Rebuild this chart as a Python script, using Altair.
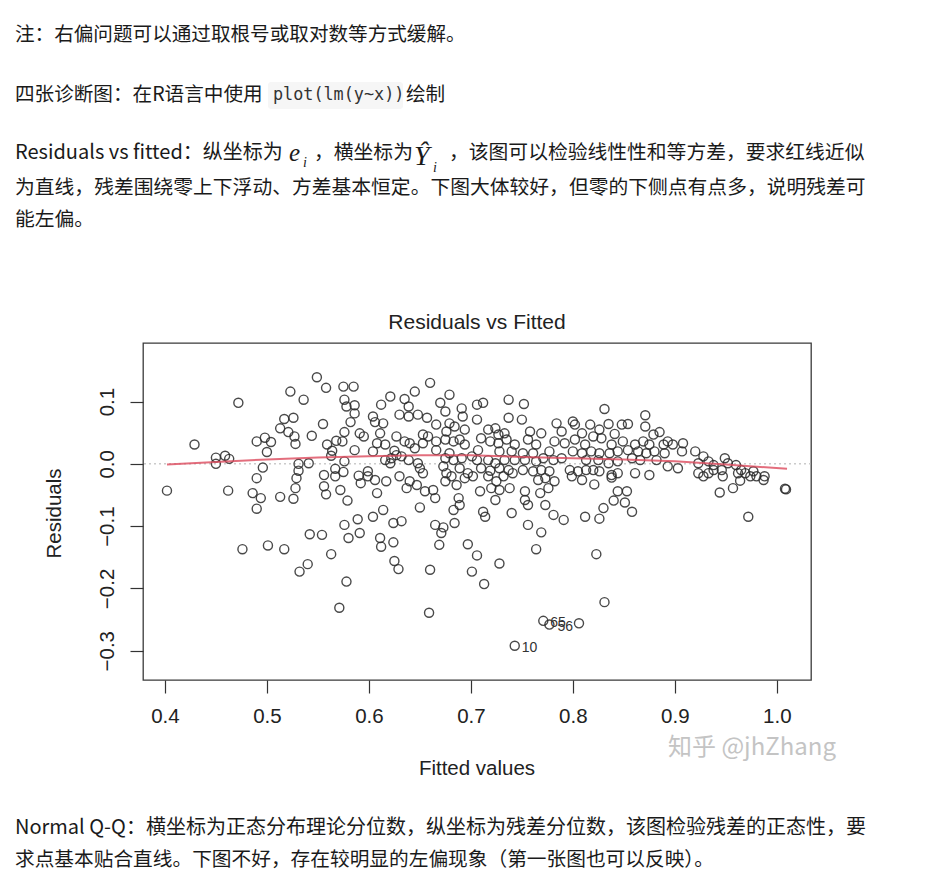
import altair as alt
import pandas as pd

# ---------------- data: (fitted, residual) pairs ----------------
ZONE_A = [(0.472, 0.098), (0.429, 0.031), (0.450, 0.010), (0.450, 0.000), (0.459, 0.013),
          (0.463, 0.008), (0.402, -0.043), (0.462, -0.043), (0.476, -0.137), (0.490, 0.036),
          (0.490, -0.023), (0.486, -0.047), (0.490, -0.072)]
ZONE_B = [(0.549, 0.139), (0.523, 0.116), (0.536, 0.103), (0.558, 0.122), (0.575, 0.124),
          (0.585, 0.124), (0.576, 0.103), (0.578, 0.092), (0.586, 0.094), (0.586, 0.081),
          (0.582, 0.067), (0.555, 0.064), (0.517, 0.072), (0.526, 0.074), (0.513, 0.057),
          (0.521, 0.051), (0.527, 0.044), (0.528, 0.032), (0.544, 0.045), (0.498, 0.042),
          (0.504, 0.035), (0.500, 0.019), (0.559, 0.031), (0.564, 0.021), (0.568, 0.037),
          (0.574, 0.036), (0.576, 0.051), (0.591, 0.049), (0.595, 0.044), (0.586, 0.022),
          (0.563, 0.013), (0.576, 0.004), (0.541, 0.001), (0.531, 0.000), (0.531, -0.011),
          (0.496, -0.006), (0.529, -0.023), (0.528, -0.039), (0.526, -0.056), (0.513, -0.053),
          (0.494, -0.055), (0.556, -0.018), (0.556, -0.036), (0.558, -0.049), (0.567, -0.008),
          (0.567, -0.020), (0.575, -0.013), (0.572, -0.042), (0.579, -0.059), (0.590, -0.019),
          (0.592, -0.031), (0.599, -0.012), (0.576, -0.098), (0.589, -0.089), (0.591, -0.111),
          (0.580, -0.119), (0.542, -0.113), (0.554, -0.114), (0.501, -0.131), (0.517, -0.137),
          (0.563, -0.145), (0.540, -0.161), (0.532, -0.173), (0.578, -0.189), (0.571, -0.231)]
ZONE_C = [(0.660, 0.130), (0.679, 0.111), (0.645, 0.116), (0.621, 0.108), (0.635, 0.104),
          (0.639, 0.092), (0.612, 0.095), (0.630, 0.079), (0.639, 0.076), (0.648, 0.079),
          (0.657, 0.074), (0.670, 0.098), (0.675, 0.084), (0.691, 0.089), (0.692, 0.076),
          (0.706, 0.095), (0.706, 0.071), (0.604, 0.076), (0.606, 0.067), (0.614, 0.065),
          (0.666, 0.063), (0.679, 0.065), (0.684, 0.060), (0.694, 0.055), (0.676, 0.052),
          (0.611, 0.049), (0.608, 0.033), (0.616, 0.031), (0.627, 0.044), (0.635, 0.036),
          (0.640, 0.033), (0.653, 0.047), (0.658, 0.044), (0.653, 0.033), (0.666, 0.036),
          (0.675, 0.039), (0.683, 0.036), (0.689, 0.039), (0.694, 0.031), (0.666, 0.022),
          (0.604, 0.020), (0.625, 0.021), (0.645, 0.025), (0.616, 0.006), (0.622, 0.009),
          (0.627, 0.014), (0.621, 0.001), (0.632, 0.012), (0.639, 0.006), (0.648, 0.001),
          (0.650, -0.007), (0.653, -0.015), (0.675, 0.009), (0.679, 0.017), (0.683, 0.006),
          (0.691, 0.009), (0.701, 0.012), (0.673, -0.004), (0.676, -0.015), (0.689, -0.007),
          (0.697, -0.015), (0.702, -0.020), (0.599, -0.020), (0.606, -0.026), (0.617, -0.028),
          (0.608, -0.047), (0.630, -0.020), (0.640, -0.028), (0.647, -0.034), (0.637, -0.039),
          (0.655, -0.044), (0.663, -0.042), (0.665, -0.055), (0.675, -0.028), (0.681, -0.020),
          (0.686, -0.034), (0.694, -0.023), (0.688, -0.055), (0.689, -0.066), (0.683, -0.074),
          (0.650, -0.070), (0.614, -0.074), (0.604, -0.085), (0.624, -0.095), (0.632, -0.092),
          (0.665, -0.098), (0.673, -0.102), (0.671, -0.111), (0.684, -0.095), (0.611, -0.119),
          (0.612, -0.133), (0.624, -0.126), (0.669, -0.130), (0.697, -0.129), (0.706, -0.147),
          (0.625, -0.156), (0.629, -0.169), (0.660, -0.170), (0.701, -0.173), (0.659, -0.239)]
ZONE_D = [(0.712, 0.098), (0.737, 0.103), (0.752, 0.096), (0.737, 0.074), (0.750, 0.071),
          (0.758, 0.052), (0.769, 0.049), (0.784, 0.065), (0.789, 0.052), (0.800, 0.068),
          (0.802, 0.063), (0.809, 0.049), (0.717, 0.055), (0.724, 0.057), (0.727, 0.047),
          (0.733, 0.049), (0.735, 0.039), (0.710, 0.041), (0.719, 0.036), (0.727, 0.033),
          (0.743, 0.031), (0.756, 0.039), (0.764, 0.031), (0.782, 0.036), (0.792, 0.033),
          (0.802, 0.039), (0.812, 0.031), (0.707, 0.022), (0.728, 0.020), (0.740, 0.020),
          (0.751, 0.017), (0.761, 0.017), (0.777, 0.020), (0.781, 0.006), (0.789, 0.009),
          (0.800, 0.020), (0.809, 0.017), (0.706, 0.006), (0.717, 0.006), (0.724, 0.001),
          (0.733, 0.006), (0.743, 0.006), (0.753, 0.006), (0.764, 0.004), (0.771, 0.009),
          (0.710, -0.007), (0.719, -0.011), (0.728, -0.007), (0.737, -0.010), (0.741, -0.015),
          (0.751, -0.010), (0.761, -0.012), (0.769, -0.010), (0.777, -0.012), (0.797, -0.010),
          (0.805, -0.012), (0.813, -0.010), (0.717, -0.020), (0.732, -0.020), (0.725, -0.028),
          (0.766, -0.026), (0.773, -0.023), (0.782, -0.028), (0.799, -0.020), (0.809, -0.026),
          (0.709, -0.044), (0.720, -0.039), (0.728, -0.042), (0.738, -0.039), (0.753, -0.044),
          (0.768, -0.047), (0.776, -0.039), (0.724, -0.058), (0.753, -0.058), (0.756, -0.066),
          (0.773, -0.066), (0.712, -0.077), (0.714, -0.085), (0.740, -0.079), (0.781, -0.082),
          (0.791, -0.090), (0.812, -0.085), (0.756, -0.098), (0.769, -0.110), (0.764, -0.137),
          (0.728, -0.160), (0.713, -0.193), (0.771, -0.252), (0.777, -0.258), (0.806, -0.256),
          (0.743, -0.292)]
ZONE_E = [(0.831, 0.088), (0.871, 0.078), (0.817, 0.063), (0.826, 0.055), (0.835, 0.064),
          (0.848, 0.063), (0.854, 0.064), (0.841, 0.048), (0.871, 0.060), (0.879, 0.047),
          (0.885, 0.051), (0.893, 0.036), (0.898, 0.031), (0.908, 0.033), (0.820, 0.044),
          (0.828, 0.041), (0.838, 0.031), (0.849, 0.036), (0.861, 0.031), (0.869, 0.036),
          (0.875, 0.031), (0.889, 0.031), (0.818, 0.020), (0.826, 0.017), (0.836, 0.017),
          (0.844, 0.020), (0.854, 0.022), (0.864, 0.020), (0.872, 0.017), (0.880, 0.020),
          (0.890, 0.017), (0.907, 0.020), (0.920, 0.020), (0.813, 0.006), (0.825, 0.006),
          (0.835, 0.001), (0.844, 0.004), (0.858, 0.009), (0.866, 0.006), (0.882, 0.006),
          (0.893, -0.004), (0.903, -0.007), (0.923, 0.001), (0.820, -0.010), (0.826, -0.012),
          (0.838, -0.018), (0.844, -0.015), (0.861, -0.015), (0.875, -0.018), (0.923, -0.015),
          (0.821, -0.033), (0.838, -0.022), (0.844, -0.044), (0.853, -0.044), (0.840, -0.059),
          (0.851, -0.062), (0.858, -0.077), (0.830, -0.071), (0.826, -0.088), (0.823, -0.145),
          (0.831, -0.222)]
ZONE_F = [(0.928, 0.012), (0.933, 0.004), (0.938, -0.002), (0.949, 0.009), (0.952, 0.001),
          (0.946, -0.010), (0.960, -0.002), (0.965, -0.010), (0.969, -0.015), (0.977, -0.012),
          (0.980, -0.020), (0.988, -0.020), (0.987, -0.026), (0.928, -0.020), (0.933, -0.015),
          (0.938, -0.010), (0.947, -0.020), (0.962, -0.015), (0.964, -0.027), (0.974, -0.020),
          (0.957, -0.039), (0.944, -0.046), (1.008, -0.040), (1.009, -0.041), (0.972, -0.085)]

LOWESS_X = [0.402, 0.45, 0.50, 0.55, 0.60, 0.65, 0.70, 0.75, 0.80, 0.85, 0.90, 0.95, 1.01]
LOWESS_Y = [-0.001, 0.003, 0.007, 0.010, 0.012, 0.014, 0.014, 0.011, 0.009, 0.007, 0.004, -0.001, -0.008]

LABEL_FITTED = [0.743, 0.771, 0.778]
LABEL_RESID = [-0.292, -0.252, -0.258]
LABEL_TEXT = ["10", "65", "56"]

X_TICKS = [0.4, 0.5, 0.6, 0.7, 0.8, 0.9, 1.0]
Y_TICKS = [-0.3, -0.2, -0.1, 0.0, 0.1]
X_DOMAIN = [0.3785, 1.0335]
Y_DOMAIN = [-0.347, 0.194]

TITLE = "Residuals vs Fitted"
X_TITLE = "Fitted values"
Y_TITLE = "Residuals"
WATERMARK = "知乎 @jhZhang"

LINE1 = "注：右偏问题可以通过取根号或取对数等方式缓解。"
LINE2A = "四张诊断图：在R语言中使用"
LINE2CODE = "plot(lm(y~x))"
LINE2B = "绘制"
LINE3A = "Residuals vs fitted：纵坐标为"
LINE3B = "，横坐标为"
LINE3C = "，该图可以检验线性性和等方差，要求红线近似"
LINE4 = "为直线，残差围绕零上下浮动、方差基本恒定。下图大体较好，但零的下侧点有点多，说明残差可"
LINE5 = "能左偏。"
LINE6 = "Normal Q-Q：横坐标为正态分布理论分位数，纵坐标为残差分位数，该图检验残差的正态性，要"
LINE7 = "求点基本贴合直线。下图不好，存在较明显的左偏现象（第一张图也可以反映）。"

# ---------------- layout ----------------
PL, PT, PW, PH = 143, 343, 668, 337   # plot-area box on the page
CJK = "Noto Sans CJK SC"
RFONT = "Liberation Sans"
SERIF = "Liberation Serif"
TXT = "#1a1a1a"

pts = ZONE_A + ZONE_B + ZONE_C + ZONE_D + ZONE_E + ZONE_F
df = pd.DataFrame({"fitted": [p[0] for p in pts], "resid": [p[1] for p in pts]})
lo = pd.DataFrame({"fitted": LOWESS_X, "resid": LOWESS_Y})
lab = pd.DataFrame({"fitted": LABEL_FITTED, "resid": LABEL_RESID, "lab": LABEL_TEXT})

xs = alt.Scale(domain=X_DOMAIN, nice=False, zero=False)
ys = alt.Scale(domain=Y_DOMAIN, nice=False, zero=False)

x_axis = alt.Axis(values=X_TICKS, format=".1f", title=None, grid=False, domain=False,
                  tickSize=13, tickColor="#333333", tickWidth=1.2,
                  labelFont=RFONT, labelFontSize=20.5, labelColor="#222222", labelPadding=13)
y_axis = alt.Axis(values=Y_TICKS, format=".1f", title=None, grid=False, domain=False,
                  tickSize=13, tickColor="#333333", tickWidth=1.2,
                  labelFont=RFONT, labelFontSize=20.5, labelColor="#222222",
                  labelAngle=270, labelAlign="center", labelBaseline="bottom", labelPadding=13)

points = alt.Chart(df).mark_point(shape="circle", filled=False, size=82, strokeWidth=1.4,
                                  color="#2a2a2a", opacity=0.85).encode(
    x=alt.X("fitted:Q", scale=xs, axis=x_axis),
    y=alt.Y("resid:Q", scale=ys, axis=y_axis),
)

zero = alt.Chart(pd.DataFrame({"resid": [0.0]})).mark_rule(
    color="#b0b0b0", strokeDash=[2, 3], strokeWidth=1).encode(y=alt.Y("resid:Q", scale=ys))

lowess = alt.Chart(lo).mark_line(color="#dc4a5c", strokeWidth=2, opacity=0.8).encode(
    x=alt.X("fitted:Q", scale=xs), y=alt.Y("resid:Q", scale=ys))

labels = alt.Chart(lab).mark_text(align="left", baseline="middle", dx=7, dy=2,
                                  fontSize=14, font=RFONT, color="#333333").encode(
    x=alt.X("fitted:Q", scale=xs), y=alt.Y("resid:Q", scale=ys), text="lab:N")


def txt(s, x, y, size=19.8, font=CJK, color=TXT, align="left", baseline="middle", **kw):
    return alt.Chart(pd.DataFrame({"t": [s]})).mark_text(
        align=align, baseline=baseline, fontSize=size, font=font, color=color, **kw
    ).encode(text="t:N", x=alt.value(x - PL), y=alt.value(y - PT))


code_bg = alt.Chart(pd.DataFrame({"a": [0]})).mark_rect(color="#f6f6f6", cornerRadius=3).encode(
    x=alt.value(268 - PL), x2=alt.value(403 - PL), y=alt.value(82 - PT), y2=alt.value(109 - PT))

texts = [
    txt(LINE1, 15, 35, size=19.6),
    txt(LINE2A, 15, 95, size=19.6),
    code_bg,
    txt(LINE2CODE, 273, 95, size=16.8, font="DejaVu Sans Mono", color="#333333"),
    txt(LINE2B, 406, 95, size=19.6),
    txt(LINE3A, 15, 153, size=20),
    txt("e", 289, 161, size=25, font=SERIF, baseline="alphabetic", fontStyle="italic"),
    txt("i", 303, 167, size=14, font=SERIF, baseline="alphabetic", fontStyle="italic"),
    txt(LINE3B, 314, 153),
    txt("Ŷ", 414, 165, size=28, font=SERIF, baseline="alphabetic", fontStyle="italic"),
    txt("i", 433, 172, size=14, font=SERIF, baseline="alphabetic", fontStyle="italic"),
    txt(LINE3C, 449, 153),
    txt(LINE4, 15, 188),
    txt(LINE5, 15, 220),
    txt(LINE6, 15, 828, size=20),
    txt(LINE7, 15, 860, size=19.7),
    txt(TITLE, PL + PW / 2, 323, size=21, font=RFONT, color="#222222", align="center"),
    txt(X_TITLE, PL + PW / 2, 769, size=20.5, font=RFONT, color="#222222", align="center"),
    txt(Y_TITLE, 55, PT + PH / 2 + 2, size=20.5, font=RFONT, color="#222222", align="center", angle=270),
    txt(WATERMARK, 668, 748, size=24, color="#c4c4c4"),
]

chart = alt.layer(zero, points, lowess, labels, *texts).properties(
    width=PW, height=PH,
    padding={"left": PL, "top": PT, "right": 925 - PL - PW, "bottom": 889 - PT - PH},
    autosize=alt.AutoSizeParams(type="none"),
    background="white",
).configure_view(stroke="#3a3a3a", strokeWidth=1.3)

chart.save("out.html", embed_options={"renderer": "svg", "actions": False})
